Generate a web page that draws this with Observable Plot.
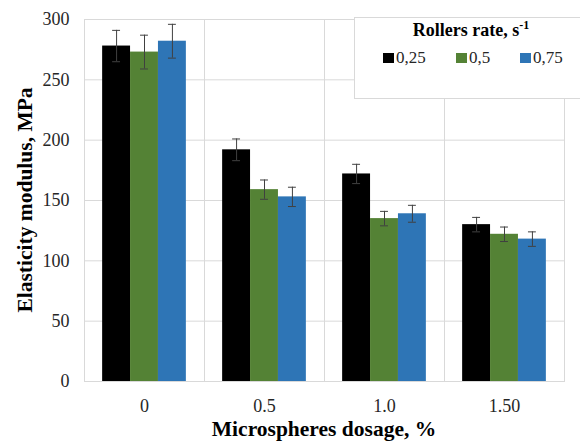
<!DOCTYPE html>
<html>
<head>
<meta charset="utf-8">
<script src="https://cdn.jsdelivr.net/npm/d3@7"></script>
<script src="https://cdn.jsdelivr.net/npm/@observablehq/plot@0.6"></script>
<style>
  body { margin: 0; background: #fff; }
</style>
</head>
<body>
<div id="chart"></div>
<script>
// Microspheres dosage groups (x facets) and rollers rate series
const dosages = ["0", "0.5", "1.0", "1.50"];
const rates = ["0,25", "0,5", "0,75"];
const colors = ["#000000", "#548235", "#2e75b6"];
const yTicks = [0, 50, 100, 150, 200, 250, 300];

// Elasticity modulus (MPa) and error half-widths per rollers rate
const modulus025 = [278, 192, 172, 130];
const error025 = [13, 9, 8, 6];
const modulus05 = [273, 159, 135, 122];
const error05 = [14, 8, 6, 6];
const modulus075 = [282, 153, 139, 118];
const error075 = [14, 8, 7, 6];

const seriesValues = [modulus025, modulus05, modulus075];
const seriesErrors = [error025, error05, error075];

const rows = [];
rates.forEach((rate, i) => {
  dosages.forEach((dosage, j) => {
    rows.push({ dosage, rate, value: seriesValues[i][j], err: seriesErrors[i][j] });
  });
});

const font = "'Liberation Serif', 'Times New Roman', serif";
const gridColor = "#d9d9d9";

const chart = Plot.plot({
  width: 580,
  height: 444,
  marginLeft: 84,
  marginRight: 16,
  marginTop: 19,
  marginBottom: 63,
  style: `font-family: ${font}; font-size: 18px; background: #fff; color: #262626;`,
  fx: { domain: dosages, padding: 0, label: null },
  x: { domain: rates, paddingInner: 0, paddingOuter: 0.65, axis: null, round: false },
  y: { domain: [0, 300], label: null },
  color: { domain: rates, range: colors },
  marks: [
    Plot.gridY(yTicks, { stroke: gridColor, strokeOpacity: 1 }),
    Plot.frame({ stroke: gridColor }),
    Plot.barY(rows, { fx: "dosage", x: "rate", y: "value", fill: "rate" }),
    Plot.ruleX(rows, {
      fx: "dosage", x: "rate",
      y1: d => d.value - d.err, y2: d => d.value + d.err,
      stroke: "#404040", strokeWidth: 1
    }),
    Plot.tickY(rows, {
      fx: "dosage", x: "rate", y: d => d.value + d.err,
      insetLeft: 10, insetRight: 10, stroke: "#404040", strokeWidth: 1
    }),
    Plot.tickY(rows, {
      fx: "dosage", x: "rate", y: d => d.value - d.err,
      insetLeft: 10, insetRight: 10, stroke: "#404040", strokeWidth: 1
    }),
    Plot.axisY({ ticks: yTicks, tickSize: 0, tickPadding: 15, label: null, fontSize: 18, fontFamily: font }),
    Plot.axisFx({ anchor: "bottom", tickSize: 0, tickPadding: 18, label: null, fontSize: 18, fontFamily: font })
  ]
});

document.getElementById("chart").appendChild(chart);

const svg = d3.select(chart);
const color = chart.scale("color");

// Axis titles
svg.append("text")
  .attr("transform", "translate(25,200) rotate(-90)")
  .attr("text-anchor", "middle")
  .attr("dominant-baseline", "central")
  .attr("font-family", font)
  .attr("font-size", 21.5)
  .attr("font-weight", "bold")
  .attr("fill", "#000")
  .text("Elasticity modulus, MPa");

svg.append("text")
  .attr("x", 324)
  .attr("y", 436)
  .attr("text-anchor", "middle")
  .attr("font-family", font)
  .attr("font-size", 21.5)
  .attr("font-weight", "bold")
  .attr("fill", "#000")
  .text("Microspheres dosage, %");

// Legend box
const legend = svg.append("g").attr("text-anchor", "start");
legend.append("rect")
  .attr("x", 354.5).attr("y", 17.5)
  .attr("width", 240).attr("height", 81)
  .attr("fill", "#fff").attr("stroke", gridColor);

const legendTitle = legend.append("text")
  .attr("x", 471).attr("y", 36)
  .attr("text-anchor", "middle")
  .attr("font-family", font)
  .attr("font-size", 18)
  .attr("font-weight", "bold")
  .attr("fill", "#000");
legendTitle.append("tspan").text("Rollers rate, s");
legendTitle.append("tspan").attr("font-size", 12).attr("dy", -7).text("-1");

const itemX = [383, 456, 520];
rates.forEach((rate, i) => {
  legend.append("rect")
    .attr("x", itemX[i]).attr("y", 53)
    .attr("width", 11).attr("height", 10)
    .attr("fill", color.apply(rate));
  legend.append("text")
    .attr("x", itemX[i] + 13).attr("y", 63)
    .attr("text-anchor", "start")
    .attr("font-family", font)
    .attr("font-size", 17)
    .attr("fill", "#262626")
    .text(rate);
});
</script>
</body>
</html>
